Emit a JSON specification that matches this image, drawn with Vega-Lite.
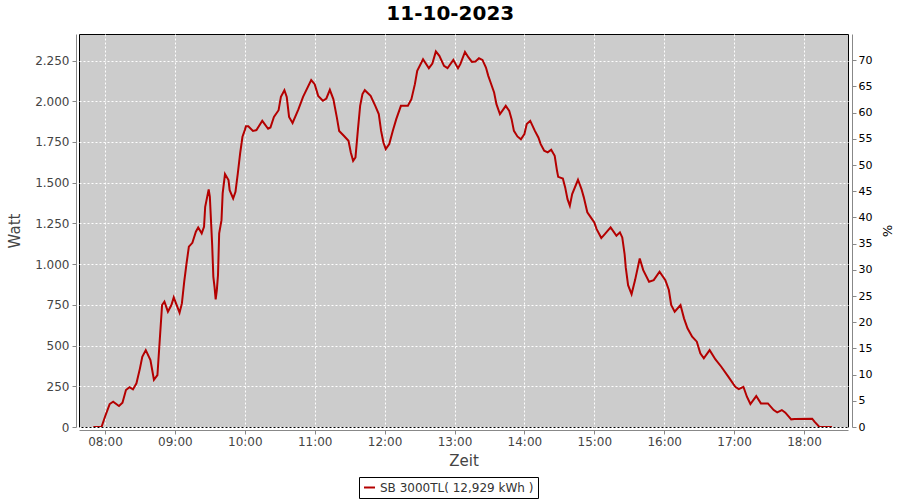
{
  "$schema": "https://vega.github.io/schema/vega-lite/v6.json",
  "autosize": {"type": "none"},
  "padding": {"left": 79, "top": 34, "right": 52, "bottom": 73},
  "width": 769,
  "height": 393,
  "background": "white",
  "title": {"text": "11-10-2023", "font": "DejaVu Sans", "fontSize": 20, "fontWeight": "bold", "color": "black", "anchor": "middle", "frame": "bounds", "offset": 7},
  "config": {
    "view": {"stroke": "black", "strokeWidth": 1, "fill": "#CCCCCC"},
    "axis": {"labelFont": "DejaVu Sans", "labelFontSize": 12, "labelColor": "#444444", "titleFont": "DejaVu Sans", "titleFontSize": 15, "titleFontWeight": "normal", "titleColor": "#444444", "domainColor": "#888888", "tickColor": "#888888", "tickSize": 4, "gridColor": "white", "gridDash": [2, 2], "gridWidth": 1, "gridOpacity": 1}
  },
  "layer": [
    {
      "data": {
        "values": [
          {"t": "07:50", "w": 0}, {"t": "07:57", "w": 0}, {"t": "08:00", "w": 63}, {"t": "08:04", "w": 141}, {"t": "08:07", "w": 155},
          {"t": "08:12", "w": 129}, {"t": "08:15", "w": 149}, {"t": "08:18", "w": 227}, {"t": "08:21", "w": 244}, {"t": "08:24", "w": 231},
          {"t": "08:27", "w": 268}, {"t": "08:30", "w": 360}, {"t": "08:32", "w": 431}, {"t": "08:35", "w": 472}, {"t": "08:39", "w": 411},
          {"t": "08:42", "w": 290}, {"t": "08:45", "w": 319}, {"t": "08:47", "w": 534}, {"t": "08:49", "w": 749}, {"t": "08:51", "w": 769},
          {"t": "08:54", "w": 708}, {"t": "08:57", "w": 749}, {"t": "08:59", "w": 796}, {"t": "09:04", "w": 702}, {"t": "09:06", "w": 759},
          {"t": "09:08", "w": 892}, {"t": "09:10", "w": 1005}, {"t": "09:12", "w": 1107}, {"t": "09:15", "w": 1131}, {"t": "09:18", "w": 1199},
          {"t": "09:20", "w": 1225}, {"t": "09:23", "w": 1189}, {"t": "09:25", "w": 1229}, {"t": "09:26", "w": 1352}, {"t": "09:29", "w": 1459},
          {"t": "09:30", "w": 1413}, {"t": "09:32", "w": 1117}, {"t": "09:33", "w": 922}, {"t": "09:34", "w": 861}, {"t": "09:35", "w": 784},
          {"t": "09:36", "w": 841}, {"t": "09:37", "w": 933}, {"t": "09:38", "w": 1189}, {"t": "09:40", "w": 1270}, {"t": "09:41", "w": 1434},
          {"t": "09:43", "w": 1553}, {"t": "09:46", "w": 1516}, {"t": "09:47", "w": 1454}, {"t": "09:50", "w": 1403}, {"t": "09:52", "w": 1444},
          {"t": "09:54", "w": 1557}, {"t": "09:56", "w": 1680}, {"t": "09:58", "w": 1782}, {"t": "10:00", "w": 1823}, {"t": "10:01", "w": 1847},
          {"t": "10:03", "w": 1847}, {"t": "10:07", "w": 1818}, {"t": "10:10", "w": 1823}, {"t": "10:15", "w": 1880}, {"t": "10:20", "w": 1831},
          {"t": "10:22", "w": 1839}, {"t": "10:25", "w": 1904}, {"t": "10:29", "w": 1945}, {"t": "10:31", "w": 2027}, {"t": "10:34", "w": 2068},
          {"t": "10:36", "w": 2027}, {"t": "10:38", "w": 1904}, {"t": "10:41", "w": 1867}, {"t": "10:46", "w": 1950}, {"t": "10:50", "w": 2027},
          {"t": "10:57", "w": 2130}, {"t": "11:00", "w": 2105}, {"t": "11:03", "w": 2033}, {"t": "11:07", "w": 2003}, {"t": "11:10", "w": 2017},
          {"t": "11:13", "w": 2070}, {"t": "11:16", "w": 2013}, {"t": "11:19", "w": 1901}, {"t": "11:21", "w": 1818}, {"t": "11:25", "w": 1788},
          {"t": "11:29", "w": 1757}, {"t": "11:31", "w": 1686}, {"t": "11:33", "w": 1634}, {"t": "11:35", "w": 1655}, {"t": "11:37", "w": 1818},
          {"t": "11:39", "w": 1972}, {"t": "11:41", "w": 2044}, {"t": "11:43", "w": 2068}, {"t": "11:48", "w": 2033}, {"t": "11:52", "w": 1972},
          {"t": "11:55", "w": 1921}, {"t": "11:57", "w": 1818}, {"t": "11:59", "w": 1747}, {"t": "12:01", "w": 1706}, {"t": "12:04", "w": 1737},
          {"t": "12:07", "w": 1818}, {"t": "12:10", "w": 1890}, {"t": "12:14", "w": 1972}, {"t": "12:20", "w": 1972}, {"t": "12:23", "w": 2013},
          {"t": "12:26", "w": 2105}, {"t": "12:28", "w": 2187}, {"t": "12:33", "w": 2258}, {"t": "12:38", "w": 2203}, {"t": "12:41", "w": 2232},
          {"t": "12:44", "w": 2306}, {"t": "12:47", "w": 2279}, {"t": "12:51", "w": 2217}, {"t": "12:54", "w": 2203}, {"t": "12:59", "w": 2254},
          {"t": "13:01", "w": 2228}, {"t": "13:03", "w": 2203}, {"t": "13:05", "w": 2228}, {"t": "13:09", "w": 2303}, {"t": "13:12", "w": 2269},
          {"t": "13:15", "w": 2242}, {"t": "13:18", "w": 2244}, {"t": "13:21", "w": 2264}, {"t": "13:24", "w": 2254}, {"t": "13:27", "w": 2207},
          {"t": "13:29", "w": 2156}, {"t": "13:31", "w": 2115}, {"t": "13:34", "w": 2054}, {"t": "13:36", "w": 1982}, {"t": "13:39", "w": 1921},
          {"t": "13:41", "w": 1941}, {"t": "13:44", "w": 1972}, {"t": "13:47", "w": 1941}, {"t": "13:49", "w": 1890}, {"t": "13:51", "w": 1818},
          {"t": "13:54", "w": 1784}, {"t": "13:57", "w": 1767}, {"t": "14:00", "w": 1798}, {"t": "14:02", "w": 1860}, {"t": "14:05", "w": 1880},
          {"t": "14:09", "w": 1818}, {"t": "14:12", "w": 1778}, {"t": "14:14", "w": 1737}, {"t": "14:17", "w": 1696}, {"t": "14:20", "w": 1686},
          {"t": "14:23", "w": 1702}, {"t": "14:26", "w": 1665}, {"t": "14:28", "w": 1573}, {"t": "14:29", "w": 1536}, {"t": "14:33", "w": 1526},
          {"t": "14:35", "w": 1471}, {"t": "14:37", "w": 1399}, {"t": "14:39", "w": 1358}, {"t": "14:41", "w": 1430}, {"t": "14:46", "w": 1518},
          {"t": "14:49", "w": 1461}, {"t": "14:51", "w": 1410}, {"t": "14:54", "w": 1318}, {"t": "14:57", "w": 1287}, {"t": "15:00", "w": 1256},
          {"t": "15:02", "w": 1215}, {"t": "15:06", "w": 1160}, {"t": "15:09", "w": 1184}, {"t": "15:14", "w": 1226}, {"t": "15:19", "w": 1174},
          {"t": "15:22", "w": 1195}, {"t": "15:24", "w": 1164}, {"t": "15:26", "w": 1062}, {"t": "15:27", "w": 980}, {"t": "15:29", "w": 871},
          {"t": "15:32", "w": 816}, {"t": "15:35", "w": 902}, {"t": "15:39", "w": 1035}, {"t": "15:42", "w": 963}, {"t": "15:47", "w": 892},
          {"t": "15:51", "w": 902}, {"t": "15:56", "w": 953}, {"t": "16:01", "w": 902}, {"t": "16:04", "w": 841}, {"t": "16:06", "w": 749},
          {"t": "16:09", "w": 708}, {"t": "16:14", "w": 749}, {"t": "16:17", "w": 667}, {"t": "16:20", "w": 606}, {"t": "16:24", "w": 554},
          {"t": "16:28", "w": 524}, {"t": "16:31", "w": 452}, {"t": "16:34", "w": 422}, {"t": "16:39", "w": 472}, {"t": "16:44", "w": 415},
          {"t": "16:49", "w": 370}, {"t": "16:55", "w": 309}, {"t": "17:01", "w": 247}, {"t": "17:04", "w": 233}, {"t": "17:08", "w": 247},
          {"t": "17:11", "w": 186}, {"t": "17:14", "w": 141}, {"t": "17:19", "w": 190}, {"t": "17:23", "w": 145}, {"t": "17:29", "w": 145},
          {"t": "17:34", "w": 104}, {"t": "17:37", "w": 90}, {"t": "17:41", "w": 104}, {"t": "17:44", "w": 88}, {"t": "17:49", "w": 47},
          {"t": "17:52", "w": 49}, {"t": "18:07", "w": 51}, {"t": "18:09", "w": 33}, {"t": "18:13", "w": 2}, {"t": "18:24", "w": 0}
        ],
        "format": {"parse": {"t": "date:'%H:%M'"}}
      },
      "mark": {"type": "line", "strokeWidth": 2, "clip": true},
      "encoding": {
        "x": {
          "field": "t", "type": "temporal",
          "scale": {"domain": [{"year": 1900, "month": 1, "date": 1, "hours": 7, "minutes": 37, "seconds": 41}, {"year": 1900, "month": 1, "date": 1, "hours": 18, "minutes": 37, "seconds": 46}]},
          "axis": {
            "title": "Zeit", "format": "%H:%M", "offset": 3, "labelPadding": 2, "titlePadding": 6,
            "values": [
              {"year": 1900, "month": 1, "date": 1, "hours": 8}, {"year": 1900, "month": 1, "date": 1, "hours": 9},
              {"year": 1900, "month": 1, "date": 1, "hours": 10}, {"year": 1900, "month": 1, "date": 1, "hours": 11},
              {"year": 1900, "month": 1, "date": 1, "hours": 12}, {"year": 1900, "month": 1, "date": 1, "hours": 13},
              {"year": 1900, "month": 1, "date": 1, "hours": 14}, {"year": 1900, "month": 1, "date": 1, "hours": 15},
              {"year": 1900, "month": 1, "date": 1, "hours": 16}, {"year": 1900, "month": 1, "date": 1, "hours": 17},
              {"year": 1900, "month": 1, "date": 1, "hours": 18}
            ]
          }
        },
        "y": {
          "field": "w", "type": "quantitative",
          "scale": {"domain": [0, 2413], "nice": false, "zero": true},
          "axis": {"title": "Watt", "offset": 3, "values": [0, 250, 500, 750, 1000, 1250, 1500, 1750, 2000, 2250], "labelExpr": "replace(format(datum.value, ','), ',', '.')", "labelPadding": 3, "titlePadding": 12}
        },
        "color": {
          "datum": "SB 3000TL( 12,929 kWh )",
          "scale": {"range": ["#B40000"]},
          "legend": {"title": null, "orient": "none", "legendX": 280, "legendY": 443, "strokeColor": "black", "fillColor": "white", "padding": 4, "symbolType": "stroke", "symbolStrokeWidth": 2, "symbolSize": 120, "labelFont": "DejaVu Sans", "labelFontSize": 12, "labelColor": "#333333"}
        }
      }
    },
    {
      "data": {"values": [{"pct": 0}, {"pct": 75}]},
      "mark": {"type": "point", "opacity": 0},
      "encoding": {
        "y": {
          "field": "pct", "type": "quantitative",
          "scale": {"domain": [0, 75], "nice": false},
          "axis": {"orient": "right", "title": "%", "offset": 4, "grid": false, "values": [0, 5, 10, 15, 20, 25, 30, 35, 40, 45, 50, 55, 60, 65, 70], "labelColor": "black", "labelFontSize": 11, "titleFontSize": 13, "titleColor": "black", "labelPadding": 2, "titlePadding": 8}
        }
      }
    }
  ],
  "resolve": {"scale": {"y": "independent"}, "axis": {"y": "independent"}}
}
